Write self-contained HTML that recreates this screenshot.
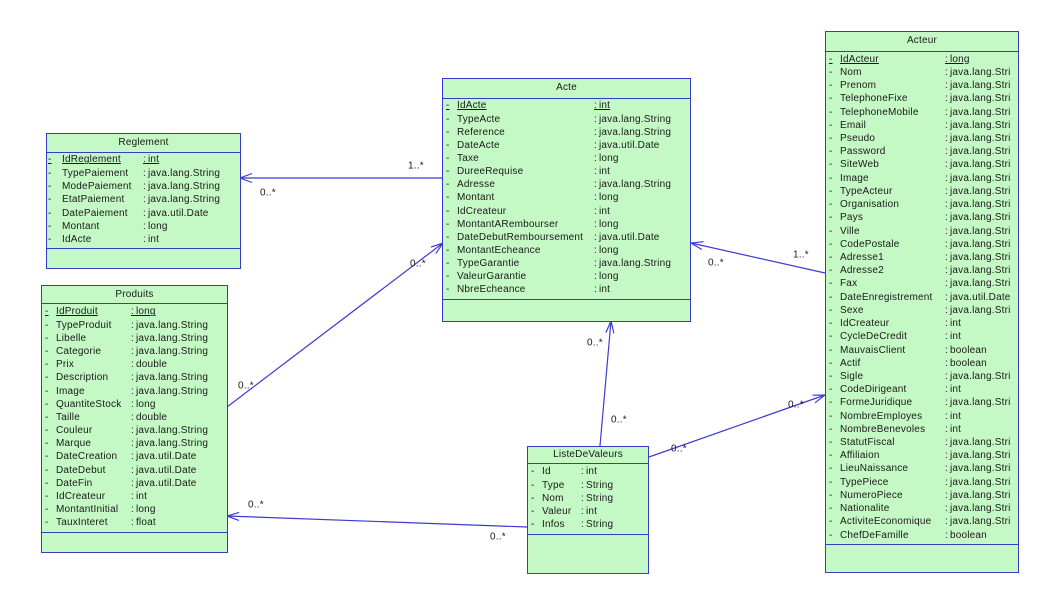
<!DOCTYPE html>
<html><head><meta charset="utf-8">
<style>
html,body{margin:0;padding:0;background:#fff;}
body{width:1042px;height:589px;position:relative;overflow:hidden;font-family:"Liberation Sans",Arial,sans-serif;font-size:10px;color:#1a1a1a;letter-spacing:0.2px;}
.box{position:absolute;box-sizing:border-box;border:1px solid #3a3ac8;background:#c4f8c4;overflow:hidden;}
.hd{position:absolute;left:0;right:0;top:0;border-bottom:1px solid #3a3ac8;text-align:center;}
.sep{position:absolute;left:0;right:0;height:1px;background:#3a3ac8;}
.rows{position:absolute;left:0;right:0;}
.r{position:relative;white-space:nowrap;}
.r span{position:absolute;top:0;}
.u span{text-decoration:underline;}
.t{word-spacing:-1px;}
svg{position:absolute;left:0;top:0;}
svg text{font-family:"Liberation Sans",Arial,sans-serif;font-size:10px;fill:#1a1a1a;}
</style></head><body>

<svg width="1042" height="589" viewBox="0 0 1042 589">
<g stroke="#3c3cd0" stroke-width="1.2" fill="none">
<line x1="442" y1="178" x2="240" y2="178"/>
<polyline points="252,173.5 240,178 252,182.5"/>
<line x1="825" y1="273" x2="691" y2="243"/>
<polyline points="703.6,241.7 691,243 701.8,249.5"/>
<line x1="227" y1="407" x2="443" y2="243"/>
<polyline points="435.9,253.5 443,243 431,247.1"/>
<line x1="600" y1="446" x2="611" y2="321"/>
<polyline points="613.9,333.3 611,321 605.9,332.6"/>
<line x1="649" y1="457" x2="825" y2="395"/>
<polyline points="815,402.8 825,395 812.4,395.2"/>
<line x1="527" y1="527" x2="227" y2="516"/>
<polyline points="239.1,512.4 227,516 238.9,520.4"/>
</g>
<text x="408" y="168.5">1..*</text>
<text x="260" y="195.5">0..*</text>
<text x="708" y="265.5">0..*</text>
<text x="793" y="257.5">1..*</text>
<text x="410" y="266.5">0..*</text>
<text x="238" y="388.5">0..*</text>
<text x="587" y="345.5">0..*</text>
<text x="611" y="422.5">0..*</text>
<text x="788" y="407.5">0..*</text>
<text x="671" y="451.5">0..*</text>
<text x="248" y="507.5">0..*</text>
<text x="490" y="539.5">0..*</text>
</svg>

<!-- Reglement -->
<div class="box" style="left:46px;top:133px;width:195px;height:136px;">
<div class="hd" style="height:18px;line-height:18px;">Reglement</div>
<div class="rows" style="top:19.3px;">
<div class="r u" style="height:13.33px;line-height:13.33px;"><span style="left:1px">-</span><span style="left:15px">IdReglement</span><span class="t" style="left:96px">: int</span></div>
<div class="r" style="height:13.33px;line-height:13.33px;"><span style="left:1px">-</span><span style="left:15px">TypePaiement</span><span class="t" style="left:96px">: java.lang.String</span></div>
<div class="r" style="height:13.33px;line-height:13.33px;"><span style="left:1px">-</span><span style="left:15px">ModePaiement</span><span class="t" style="left:96px">: java.lang.String</span></div>
<div class="r" style="height:13.33px;line-height:13.33px;"><span style="left:1px">-</span><span style="left:15px">EtatPaiement</span><span class="t" style="left:96px">: java.lang.String</span></div>
<div class="r" style="height:13.33px;line-height:13.33px;"><span style="left:1px">-</span><span style="left:15px">DatePaiement</span><span class="t" style="left:96px">: java.util.Date</span></div>
<div class="r" style="height:13.33px;line-height:13.33px;"><span style="left:1px">-</span><span style="left:15px">Montant</span><span class="t" style="left:96px">: long</span></div>
<div class="r" style="height:13.33px;line-height:13.33px;"><span style="left:1px">-</span><span style="left:15px">IdActe</span><span class="t" style="left:96px">: int</span></div>
</div>
<div class="sep" style="top:114px;"></div>
</div>

<!-- Produits -->
<div class="box" style="left:41px;top:285px;width:187px;height:268px;">
<div class="hd" style="height:17px;line-height:17px;">Produits</div>
<div class="rows" style="top:19.4px;">
<div class="r u" style="height:13.2px;line-height:13.2px;"><span style="left:3px">-</span><span style="left:14px">IdProduit</span><span class="t" style="left:89px">: long</span></div>
<div class="r" style="height:13.2px;line-height:13.2px;"><span style="left:3px">-</span><span style="left:14px">TypeProduit</span><span class="t" style="left:89px">: java.lang.String</span></div>
<div class="r" style="height:13.2px;line-height:13.2px;"><span style="left:3px">-</span><span style="left:14px">Libelle</span><span class="t" style="left:89px">: java.lang.String</span></div>
<div class="r" style="height:13.2px;line-height:13.2px;"><span style="left:3px">-</span><span style="left:14px">Categorie</span><span class="t" style="left:89px">: java.lang.String</span></div>
<div class="r" style="height:13.2px;line-height:13.2px;"><span style="left:3px">-</span><span style="left:14px">Prix</span><span class="t" style="left:89px">: double</span></div>
<div class="r" style="height:13.2px;line-height:13.2px;"><span style="left:3px">-</span><span style="left:14px">Description</span><span class="t" style="left:89px">: java.lang.String</span></div>
<div class="r" style="height:13.2px;line-height:13.2px;"><span style="left:3px">-</span><span style="left:14px">Image</span><span class="t" style="left:89px">: java.lang.String</span></div>
<div class="r" style="height:13.2px;line-height:13.2px;"><span style="left:3px">-</span><span style="left:14px">QuantiteStock</span><span class="t" style="left:89px">: long</span></div>
<div class="r" style="height:13.2px;line-height:13.2px;"><span style="left:3px">-</span><span style="left:14px">Taille</span><span class="t" style="left:89px">: double</span></div>
<div class="r" style="height:13.2px;line-height:13.2px;"><span style="left:3px">-</span><span style="left:14px">Couleur</span><span class="t" style="left:89px">: java.lang.String</span></div>
<div class="r" style="height:13.2px;line-height:13.2px;"><span style="left:3px">-</span><span style="left:14px">Marque</span><span class="t" style="left:89px">: java.lang.String</span></div>
<div class="r" style="height:13.2px;line-height:13.2px;"><span style="left:3px">-</span><span style="left:14px">DateCreation</span><span class="t" style="left:89px">: java.util.Date</span></div>
<div class="r" style="height:13.2px;line-height:13.2px;"><span style="left:3px">-</span><span style="left:14px">DateDebut</span><span class="t" style="left:89px">: java.util.Date</span></div>
<div class="r" style="height:13.2px;line-height:13.2px;"><span style="left:3px">-</span><span style="left:14px">DateFin</span><span class="t" style="left:89px">: java.util.Date</span></div>
<div class="r" style="height:13.2px;line-height:13.2px;"><span style="left:3px">-</span><span style="left:14px">IdCreateur</span><span class="t" style="left:89px">: int</span></div>
<div class="r" style="height:13.2px;line-height:13.2px;"><span style="left:3px">-</span><span style="left:14px">MontantInitial</span><span class="t" style="left:89px">: long</span></div>
<div class="r" style="height:13.2px;line-height:13.2px;"><span style="left:3px">-</span><span style="left:14px">TauxInteret</span><span class="t" style="left:89px">: float</span></div>
</div>
<div class="sep" style="top:246px;"></div>
</div>

<!-- Acte -->
<div class="box" style="left:442px;top:78px;width:249px;height:244px;">
<div class="hd" style="height:19px;line-height:18px;">Acte</div>
<div class="rows" style="top:20.4px;">
<div class="r u" style="height:13.15px;line-height:13.15px;"><span style="left:3px">-</span><span style="left:14px">IdActe</span><span class="t" style="left:151px">: int</span></div>
<div class="r" style="height:13.15px;line-height:13.15px;"><span style="left:3px">-</span><span style="left:14px">TypeActe</span><span class="t" style="left:151px">: java.lang.String</span></div>
<div class="r" style="height:13.15px;line-height:13.15px;"><span style="left:3px">-</span><span style="left:14px">Reference</span><span class="t" style="left:151px">: java.lang.String</span></div>
<div class="r" style="height:13.15px;line-height:13.15px;"><span style="left:3px">-</span><span style="left:14px">DateActe</span><span class="t" style="left:151px">: java.util.Date</span></div>
<div class="r" style="height:13.15px;line-height:13.15px;"><span style="left:3px">-</span><span style="left:14px">Taxe</span><span class="t" style="left:151px">: long</span></div>
<div class="r" style="height:13.15px;line-height:13.15px;"><span style="left:3px">-</span><span style="left:14px">DureeRequise</span><span class="t" style="left:151px">: int</span></div>
<div class="r" style="height:13.15px;line-height:13.15px;"><span style="left:3px">-</span><span style="left:14px">Adresse</span><span class="t" style="left:151px">: java.lang.String</span></div>
<div class="r" style="height:13.15px;line-height:13.15px;"><span style="left:3px">-</span><span style="left:14px">Montant</span><span class="t" style="left:151px">: long</span></div>
<div class="r" style="height:13.15px;line-height:13.15px;"><span style="left:3px">-</span><span style="left:14px">IdCreateur</span><span class="t" style="left:151px">: int</span></div>
<div class="r" style="height:13.15px;line-height:13.15px;"><span style="left:3px">-</span><span style="left:14px">MontantARembourser</span><span class="t" style="left:151px">: long</span></div>
<div class="r" style="height:13.15px;line-height:13.15px;"><span style="left:3px">-</span><span style="left:14px">DateDebutRemboursement</span><span class="t" style="left:151px">: java.util.Date</span></div>
<div class="r" style="height:13.15px;line-height:13.15px;"><span style="left:3px">-</span><span style="left:14px">MontantEcheance</span><span class="t" style="left:151px">: long</span></div>
<div class="r" style="height:13.15px;line-height:13.15px;"><span style="left:3px">-</span><span style="left:14px">TypeGarantie</span><span class="t" style="left:151px">: java.lang.String</span></div>
<div class="r" style="height:13.15px;line-height:13.15px;"><span style="left:3px">-</span><span style="left:14px">ValeurGarantie</span><span class="t" style="left:151px">: long</span></div>
<div class="r" style="height:13.15px;line-height:13.15px;"><span style="left:3px">-</span><span style="left:14px">NbreEcheance</span><span class="t" style="left:151px">: int</span></div>
</div>
<div class="sep" style="top:220px;"></div>
</div>

<!-- Acteur -->
<div class="box" style="left:825px;top:31px;width:194px;height:542px;">
<div class="hd" style="height:19px;line-height:18px;">Acteur</div>
<div class="rows" style="top:20.7px;">
<div class="r u" style="height:13.23px;line-height:13.23px;"><span style="left:3px">-</span><span style="left:14px">IdActeur</span><span class="t" style="left:119px">: long</span></div>
<div class="r" style="height:13.23px;line-height:13.23px;"><span style="left:3px">-</span><span style="left:14px">Nom</span><span class="t" style="left:119px">: java.lang.Stri</span></div>
<div class="r" style="height:13.23px;line-height:13.23px;"><span style="left:3px">-</span><span style="left:14px">Prenom</span><span class="t" style="left:119px">: java.lang.Stri</span></div>
<div class="r" style="height:13.23px;line-height:13.23px;"><span style="left:3px">-</span><span style="left:14px">TelephoneFixe</span><span class="t" style="left:119px">: java.lang.Stri</span></div>
<div class="r" style="height:13.23px;line-height:13.23px;"><span style="left:3px">-</span><span style="left:14px">TelephoneMobile</span><span class="t" style="left:119px">: java.lang.Stri</span></div>
<div class="r" style="height:13.23px;line-height:13.23px;"><span style="left:3px">-</span><span style="left:14px">Email</span><span class="t" style="left:119px">: java.lang.Stri</span></div>
<div class="r" style="height:13.23px;line-height:13.23px;"><span style="left:3px">-</span><span style="left:14px">Pseudo</span><span class="t" style="left:119px">: java.lang.Stri</span></div>
<div class="r" style="height:13.23px;line-height:13.23px;"><span style="left:3px">-</span><span style="left:14px">Password</span><span class="t" style="left:119px">: java.lang.Stri</span></div>
<div class="r" style="height:13.23px;line-height:13.23px;"><span style="left:3px">-</span><span style="left:14px">SiteWeb</span><span class="t" style="left:119px">: java.lang.Stri</span></div>
<div class="r" style="height:13.23px;line-height:13.23px;"><span style="left:3px">-</span><span style="left:14px">Image</span><span class="t" style="left:119px">: java.lang.Stri</span></div>
<div class="r" style="height:13.23px;line-height:13.23px;"><span style="left:3px">-</span><span style="left:14px">TypeActeur</span><span class="t" style="left:119px">: java.lang.Stri</span></div>
<div class="r" style="height:13.23px;line-height:13.23px;"><span style="left:3px">-</span><span style="left:14px">Organisation</span><span class="t" style="left:119px">: java.lang.Stri</span></div>
<div class="r" style="height:13.23px;line-height:13.23px;"><span style="left:3px">-</span><span style="left:14px">Pays</span><span class="t" style="left:119px">: java.lang.Stri</span></div>
<div class="r" style="height:13.23px;line-height:13.23px;"><span style="left:3px">-</span><span style="left:14px">Ville</span><span class="t" style="left:119px">: java.lang.Stri</span></div>
<div class="r" style="height:13.23px;line-height:13.23px;"><span style="left:3px">-</span><span style="left:14px">CodePostale</span><span class="t" style="left:119px">: java.lang.Stri</span></div>
<div class="r" style="height:13.23px;line-height:13.23px;"><span style="left:3px">-</span><span style="left:14px">Adresse1</span><span class="t" style="left:119px">: java.lang.Stri</span></div>
<div class="r" style="height:13.23px;line-height:13.23px;"><span style="left:3px">-</span><span style="left:14px">Adresse2</span><span class="t" style="left:119px">: java.lang.Stri</span></div>
<div class="r" style="height:13.23px;line-height:13.23px;"><span style="left:3px">-</span><span style="left:14px">Fax</span><span class="t" style="left:119px">: java.lang.Stri</span></div>
<div class="r" style="height:13.23px;line-height:13.23px;"><span style="left:3px">-</span><span style="left:14px">DateEnregistrement</span><span class="t" style="left:119px">: java.util.Date</span></div>
<div class="r" style="height:13.23px;line-height:13.23px;"><span style="left:3px">-</span><span style="left:14px">Sexe</span><span class="t" style="left:119px">: java.lang.Stri</span></div>
<div class="r" style="height:13.23px;line-height:13.23px;"><span style="left:3px">-</span><span style="left:14px">IdCreateur</span><span class="t" style="left:119px">: int</span></div>
<div class="r" style="height:13.23px;line-height:13.23px;"><span style="left:3px">-</span><span style="left:14px">CycleDeCredit</span><span class="t" style="left:119px">: int</span></div>
<div class="r" style="height:13.23px;line-height:13.23px;"><span style="left:3px">-</span><span style="left:14px">MauvaisClient</span><span class="t" style="left:119px">: boolean</span></div>
<div class="r" style="height:13.23px;line-height:13.23px;"><span style="left:3px">-</span><span style="left:14px">Actif</span><span class="t" style="left:119px">: boolean</span></div>
<div class="r" style="height:13.23px;line-height:13.23px;"><span style="left:3px">-</span><span style="left:14px">Sigle</span><span class="t" style="left:119px">: java.lang.Stri</span></div>
<div class="r" style="height:13.23px;line-height:13.23px;"><span style="left:3px">-</span><span style="left:14px">CodeDirigeant</span><span class="t" style="left:119px">: int</span></div>
<div class="r" style="height:13.23px;line-height:13.23px;"><span style="left:3px">-</span><span style="left:14px">FormeJuridique</span><span class="t" style="left:119px">: java.lang.Stri</span></div>
<div class="r" style="height:13.23px;line-height:13.23px;"><span style="left:3px">-</span><span style="left:14px">NombreEmployes</span><span class="t" style="left:119px">: int</span></div>
<div class="r" style="height:13.23px;line-height:13.23px;"><span style="left:3px">-</span><span style="left:14px">NombreBenevoles</span><span class="t" style="left:119px">: int</span></div>
<div class="r" style="height:13.23px;line-height:13.23px;"><span style="left:3px">-</span><span style="left:14px">StatutFiscal</span><span class="t" style="left:119px">: java.lang.Stri</span></div>
<div class="r" style="height:13.23px;line-height:13.23px;"><span style="left:3px">-</span><span style="left:14px">Affiliaion</span><span class="t" style="left:119px">: java.lang.Stri</span></div>
<div class="r" style="height:13.23px;line-height:13.23px;"><span style="left:3px">-</span><span style="left:14px">LieuNaissance</span><span class="t" style="left:119px">: java.lang.Stri</span></div>
<div class="r" style="height:13.23px;line-height:13.23px;"><span style="left:3px">-</span><span style="left:14px">TypePiece</span><span class="t" style="left:119px">: java.lang.Stri</span></div>
<div class="r" style="height:13.23px;line-height:13.23px;"><span style="left:3px">-</span><span style="left:14px">NumeroPiece</span><span class="t" style="left:119px">: java.lang.Stri</span></div>
<div class="r" style="height:13.23px;line-height:13.23px;"><span style="left:3px">-</span><span style="left:14px">Nationalite</span><span class="t" style="left:119px">: java.lang.Stri</span></div>
<div class="r" style="height:13.23px;line-height:13.23px;"><span style="left:3px">-</span><span style="left:14px">ActiviteEconomique</span><span class="t" style="left:119px">: java.lang.Stri</span></div>
<div class="r" style="height:13.23px;line-height:13.23px;"><span style="left:3px">-</span><span style="left:14px">ChefDeFamille</span><span class="t" style="left:119px">: boolean</span></div>
</div>
<div class="sep" style="top:512px;"></div>
</div>

<!-- ListeDeValeurs -->
<div class="box" style="left:527px;top:446px;width:122px;height:128px;">
<div class="hd" style="height:16px;line-height:16px;">ListeDeValeurs</div>
<div class="rows" style="top:18.4px;">
<div class="r" style="height:13.25px;line-height:13.25px;"><span style="left:3px">-</span><span style="left:14px">Id</span><span class="t" style="left:53px">: int</span></div>
<div class="r" style="height:13.25px;line-height:13.25px;"><span style="left:3px">-</span><span style="left:14px">Type</span><span class="t" style="left:53px">: String</span></div>
<div class="r" style="height:13.25px;line-height:13.25px;"><span style="left:3px">-</span><span style="left:14px">Nom</span><span class="t" style="left:53px">: String</span></div>
<div class="r" style="height:13.25px;line-height:13.25px;"><span style="left:3px">-</span><span style="left:14px">Valeur</span><span class="t" style="left:53px">: int</span></div>
<div class="r" style="height:13.25px;line-height:13.25px;"><span style="left:3px">-</span><span style="left:14px">Infos</span><span class="t" style="left:53px">: String</span></div>
</div>
<div class="sep" style="top:87px;"></div>
</div>

</body></html>
